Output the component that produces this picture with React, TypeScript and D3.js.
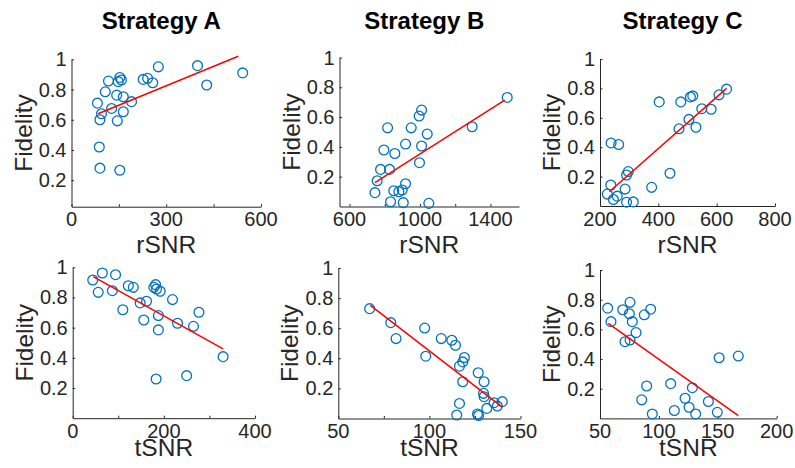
import React, { useEffect, useRef } from "react";
import * as d3 from "d3";

// top row: fidelity vs rSNR
const rsnrA = [82, 88, 90, 90, 95, 107, 117, 127, 145, 143, 148, 153, 158, 153, 164, 164, 190, 227, 241, 257, 275, 399, 428, 542];
const fidRA = [0.71, 0.42, 0.28, 0.6, 0.64, 0.785, 0.856, 0.675, 0.593, 0.763, 0.852, 0.88, 0.863, 0.266, 0.752, 0.653, 0.72, 0.867, 0.874, 0.845, 0.95, 0.958, 0.83, 0.91];
const fitRA = [[84, 0.64], [528, 1.02]];

const rsnrB = [744, 757, 776, 827, 795, 816, 857, 833, 851, 880, 899, 905, 918, 918, 950, 995, 1009, 1009, 997, 1041, 1050, 1296, 1495];
const fidRB = [0.093, 0.173, 0.249, 0.249, 0.379, 0.528, 0.356, 0.032, 0.106, 0.099, 0.111, 0.026, 0.153, 0.419, 0.528, 0.607, 0.647, 0.406, 0.294, 0.486, 0.021, 0.535, 0.732];
const fitRB = [[744, 0.16], [1481, 0.714]];

const rsnrC = [225, 237, 238, 264, 246, 259, 291, 314, 286, 291, 297, 377, 403, 440, 471, 477, 505, 529, 510, 518, 549, 581, 608, 634];
const fidRC = [0.081, 0.143, 0.429, 0.418, 0.044, 0.067, 0.026, 0.028, 0.115, 0.211, 0.234, 0.127, 0.708, 0.223, 0.525, 0.708, 0.589, 0.536, 0.742, 0.749, 0.662, 0.658, 0.756, 0.795];
const fitRC = [[232, 0.097], [634, 0.8]];

// bottom row: fidelity vs tSNR
const tsnrA = [44, 56, 65, 87, 94, 110, 122, 133, 148, 156, 162, 178, 182, 184, 192, 188, 188, 183, 219, 230, 250, 265, 277, 330];
const fidTA = [0.916, 0.834, 0.962, 0.845, 0.951, 0.719, 0.878, 0.867, 0.764, 0.651, 0.775, 0.867, 0.885, 0.856, 0.841, 0.68, 0.585, 0.26, 0.786, 0.629, 0.282, 0.609, 0.702, 0.408];
const fitTA = [[45, 0.938], [330, 0.459]];

const tsnrB = [67.2, 78.8, 81.7, 97.4, 98, 106.5, 112.3, 114.3, 119.2, 118.3, 116.5, 118.3, 116.5, 115, 126.8, 130, 129.7, 130, 131.5, 126.4, 127, 135.5, 137.3, 140];
const fidTB = [0.73, 0.637, 0.531, 0.601, 0.414, 0.531, 0.52, 0.487, 0.405, 0.376, 0.348, 0.244, 0.1, 0.023, 0.304, 0.244, 0.167, 0.145, 0.067, 0.03, 0.02, 0.105, 0.083, 0.112];
const fitTB = [[67.6, 0.752], [140, 0.075]];

const tsnrC = [56.5, 59.3, 69.3, 75.5, 74.9, 77.4, 80.6, 71.2, 75.5, 87.6, 93, 85.4, 89.6, 94.4, 110, 113.1, 122.2, 125.6, 128.4, 131.2, 142, 149.6, 151.1, 167.4];
const fidTC = [0.743, 0.652, 0.732, 0.782, 0.705, 0.652, 0.578, 0.517, 0.528, 0.698, 0.736, 0.125, 0.218, 0.03, 0.234, 0.053, 0.136, 0.075, 0.207, 0.03, 0.114, 0.041, 0.409, 0.42];
const fitTC = [[57, 0.641], [167.4, 0.019]];

const titles = ["Strategy A", "Strategy B", "Strategy C"];
const yTicks = [0.2, 0.4, 0.6, 0.8, 1];
const yTickLabels = ["0.2", "0.4", "0.6", "0.8", "1"];

const panels = [
  { title: titles[0], xlabel: "rSNR", xs: rsnrA, ys: fidRA, fit: fitRA, xDomain: [0, 600], yDomain: [0.025, 1], box: [71.5, 261, 59.3, 206.7], ticks: d3.range(0, 601, 150), labels: [0, 300, 600] },
  { title: titles[1], xlabel: "rSNR", xs: rsnrB, ys: fidRB, fit: fitRB, xDomain: [543, 1562], yDomain: [0, 1], box: [339.5, 519, 57.5, 206.5], ticks: d3.range(600, 1401, 200), labels: [600, 1000, 1400] },
  { title: titles[2], xlabel: "rSNR", xs: rsnrC, ys: fidRC, fit: fitRC, xDomain: [200, 800], yDomain: [0, 1], box: [600, 775, 59, 206], ticks: d3.range(200, 801, 200), labels: [200, 400, 600, 800] },
  { title: null, xlabel: "tSNR", xs: tsnrA, ys: fidTA, fit: fitTA, xDomain: [0, 400], yDomain: [0, 1], box: [72.7, 255, 267.3, 418.2], ticks: d3.range(0, 401, 100), labels: [0, 200, 400] },
  { title: null, xlabel: "tSNR", xs: tsnrB, ys: fidTB, fit: fitTB, xDomain: [50, 150], yDomain: [0, 1], box: [338.3, 520.5, 268, 418.5], ticks: d3.range(50, 151, 25), labels: [50, 100, 150] },
  { title: null, xlabel: "tSNR", xs: tsnrC, ys: fidTC, fit: fitTC, xDomain: [50, 200], yDomain: [0, 1], box: [600, 776.7, 270, 418.4], ticks: d3.range(50, 201, 50), labels: [50, 100, 150, 200] },
];

const FONT = "'Liberation Sans', Arial, Helvetica, sans-serif";
const AXIS = "#262626";
const BLUE = "#0072BD";

const App = () => {
  const ref = useRef(null);

  useEffect(() => {
    const width = 795;
    const height = 468;
    d3.select(ref.current).select("svg").remove();

    const svg = d3.select(ref.current)
      .append("svg")
      .attr("width", width)
      .attr("height", height)
      .style("display", "block")
      .style("background", "#fff");

    panels.forEach((p) => {
      const [left, right, top, bottom] = p.box;
      const x = d3.scaleLinear().domain(p.xDomain).range([left, right]);
      const y = d3.scaleLinear().domain(p.yDomain).range([bottom, top]);
      const g = svg.append("g");

      // matlab style: ticks point into the plot
      const xAxis = d3.axisTop(x).tickValues(p.ticks).tickSize(2.5).tickSizeOuter(0).tickFormat(() => "");
      g.append("g").attr("transform", `translate(0,${bottom})`).call(xAxis);
      const yAxis = d3.axisRight(y).tickValues(yTicks).tickSize(2.5).tickSizeOuter(0).tickFormat(() => "");
      g.append("g").attr("transform", `translate(${left},0)`).call(yAxis);
      g.selectAll(".domain, .tick line").attr("stroke", AXIS).attr("stroke-width", 1);

      g.selectAll(".xlab").data(p.labels).enter().append("text")
        .attr("x", (d) => x(d)).attr("y", bottom + 19.5)
        .attr("text-anchor", "middle")
        .attr("font-family", FONT).attr("font-size", 20).attr("fill", AXIS)
        .text((d) => d);

      g.selectAll(".ylab").data(yTicks).enter().append("text")
        .attr("x", left - 5).attr("y", (d) => y(d) + 7)
        .attr("text-anchor", "end")
        .attr("font-family", FONT).attr("font-size", 20).attr("fill", AXIS)
        .text((d, i) => yTickLabels[i]);

      g.append("text")
        .attr("x", (left + right) / 2).attr("y", p.title ? bottom + 46.5 : bottom + 37.5)
        .attr("text-anchor", "middle")
        .attr("font-family", FONT).attr("font-size", 24.5).attr("fill", AXIS)
        .text(p.xlabel);

      g.append("text")
        .attr("transform", `translate(${left - 40},${(top + bottom) / 2}) rotate(-90)`)
        .attr("text-anchor", "middle")
        .attr("font-family", FONT).attr("font-size", 24.5).attr("fill", AXIS)
        .text("Fidelity");

      if (p.title) {
        g.append("text")
          .attr("x", (left + right) / 2 - 5).attr("y", 29)
          .attr("text-anchor", "middle")
          .attr("font-family", FONT).attr("font-size", 24).attr("font-weight", "bold").attr("fill", "#000")
          .text(p.title);
      }

      g.selectAll("circle").data(p.xs).enter().append("circle")
        .attr("cx", (d) => x(d))
        .attr("cy", (d, i) => y(p.ys[i]))
        .attr("r", 4.9)
        .attr("fill", "none")
        .attr("stroke", BLUE)
        .attr("stroke-width", 1.3);

      const line = d3.line().x((d) => x(d[0])).y((d) => y(d[1]));
      g.append("path")
        .attr("d", line(p.fit))
        .attr("fill", "none")
        .attr("stroke", "#ff0000")
        .attr("stroke-width", 1.5);
    });
  }, []);

  return <div ref={ref} style={{ position: "fixed", left: 0, top: 0 }}></div>;
};

export default App;
